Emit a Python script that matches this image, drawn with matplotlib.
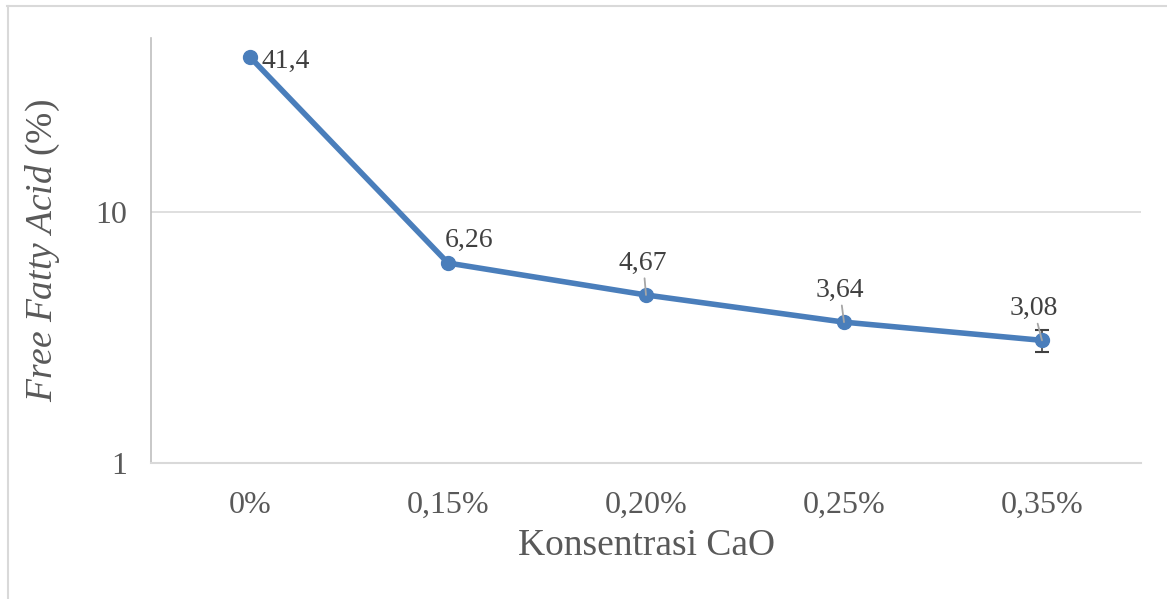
import numpy as np
import matplotlib
matplotlib.use("Agg")
import matplotlib.pyplot as plt
from matplotlib.lines import Line2D

# data
categories = ["0%", "0,15%", "0,20%", "0,25%", "0,35%"]
ffa = [41.4, 6.26, 4.67, 3.64, 3.08]
ffa_err = [0, 0, 0, 0, 0.3]
labels = ["41,4", "6,26", "4,67", "3,64", "3,08"]
yticks = [1, 10]

plt.rcParams['font.family'] = ['Liberation Serif', 'DejaVu Serif']
plt.rcParams['mathtext.fontset'] = 'custom'
plt.rcParams['mathtext.it'] = 'Liberation Serif:italic'
plt.rcParams['mathtext.rm'] = 'Liberation Serif'

txt = '#595959'
blue = '#4A7EBB'

fig = plt.figure(figsize=(11.67, 5.99), dpi=100)
ax = fig.add_axes([151/1167, 1 - 463/599, 990/1167, (463-38)/599])

x = np.arange(len(categories))
ax.plot(x, ffa, color=blue, lw=4, marker='o', ms=10, zorder=3)
ax.errorbar(x, ffa, yerr=ffa_err, fmt='none', ecolor='#404040', elinewidth=1.2,
            capsize=5, capthick=1.5, zorder=2)

ax.set_yscale('log')
ax.set_ylim(1, 49.3)
ax.set_xlim(-0.5, len(categories) - 0.5)
ax.set_yticks(yticks)
ax.set_yticklabels([str(t) for t in yticks])
ax.yaxis.set_minor_locator(matplotlib.ticker.NullLocator())
ax.set_xticks(x)
ax.set_xticklabels(categories)
ax.tick_params(axis='both', length=0, labelsize=23, colors=txt)
ax.tick_params(axis='x', pad=20)
ax.tick_params(axis='y', pad=17)
ax.grid(axis='y', color='#D9D9D9', lw=1.2)
ax.set_axisbelow(True)

for s in ['top', 'right']:
    ax.spines[s].set_visible(False)
ax.spines['left'].set_color('#BFBFBF')
ax.spines['left'].set_linewidth(1.2)
ax.spines['bottom'].set_color('#D9D9D9')
ax.spines['bottom'].set_linewidth(1.5)

ax.set_xlabel('Konsentrasi CaO', fontsize=27, color=txt, labelpad=6)
ax.set_ylabel(r'$\it{Free\ Fatty\ Acid}$ (%)', fontsize=27, color=txt, labelpad=24)

# data labels
ax.annotate(labels[0], (x[0], ffa[0]), xytext=(8, -3), textcoords='offset points',
            ha='left', va='center', fontsize=20, color='#404040')
offsets = [None, (15, 7), (-2, 14), (-3, 14), (-6, 14)]
for i in range(1, len(x)):
    arrow = None if i == 1 else dict(arrowstyle='-', color='#A6A6A6', lw=1.3,
                                      shrinkA=0, shrinkB=0)
    ax.annotate(labels[i], (x[i], ffa[i]), xytext=offsets[i], textcoords='offset points',
                ha='center', va='bottom', fontsize=20, color='#404040',
                arrowprops=arrow, zorder=4)

# chart border (top and left visible)
fig.add_artist(Line2D([7/1167, 1], [1 - 5.5/599, 1 - 5.5/599], color='#D9D9D9', lw=1.5))
fig.add_artist(Line2D([7.5/1167, 7.5/1167], [0, 1 - 5.5/599], color='#D9D9D9', lw=1.5))

fig.savefig('out.png', dpi=100)
